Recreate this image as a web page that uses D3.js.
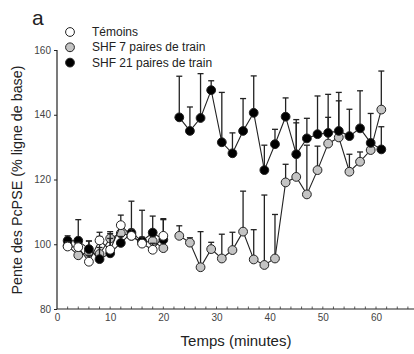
<!DOCTYPE html>
<html><head><meta charset="utf-8">
<script src="https://cdn.jsdelivr.net/npm/d3@7"></script>
<style>body{margin:0;background:#fff}svg{display:block;font-family:Arial,"Liberation Sans",sans-serif}</style>
</head><body><svg id="c" width="414" height="354"></svg>
<script>
const timesEarly = [2,4,6,8,10,12,14,16,18,20];
const timesLate = [23,25,27,29,31,33,35,37,39,41,43,45,47,49,51,53,55,57,59,61];
const temoins = [99.3,99.1,94.6,101.2,98.3,105.9,102.6,100.2,98.3,102.6];
const temoinsErr = [1.5,1.5,2,2.5,3.5,3.1,2,2,2,5];
const shf7Early = [99.5,96.6,97.5,97.0,101.8,103.4,102.6,100.5,101.0,98.8];
const shf7EarlyErr = [1,1.5,3.5,2,1.5,2.5,1.5,1.5,1.5,3.5];
const shf7Late = [102.6,100.5,92.9,98.5,95.6,98.2,103.9,95.3,93.6,95.6,119.1,120.8,115.4,122.9,131.1,133.0,122.4,125.5,129.1,141.6];
const shf7LateErr = [3.1,1.5,11,2.1,7.5,5.5,12.5,9.2,21.6,13.6,5.6,16.7,15.2,7.4,8.1,11.3,5.4,3,3,11.9];
const shf21Early = [101.1,101.1,98.5,95.4,97.2,100.4,103.5,101.0,103.6,101.4];
const shf21EarlyErr = [1.5,6.5,2.5,7,6.7,2,9.8,9.5,5.1,6.5];
const shf21Late = [139.2,135.0,139.0,147.6,131.5,128.1,135.0,140.6,122.9,130.9,139.4,127.8,132.7,134.0,134.4,135.0,133.4,135.8,131.3,129.3];
const shf21LateErr = [12.7,7.4,13.7,2.9,15.4,6.3,10,11.4,7.7,4.6,5.8,10.7,6.2,11.8,11.9,11.9,8.3,11.6,9.1,7];
const xTicks = [0,10,20,30,40,50,60];
const yTicks = [80,100,120,140,160];
const legendLabels = ["Témoins","SHF 7 paires de train","SHF 21 paires de train"];

const svg = d3.select("#c");
const x = d3.scaleLinear().domain([0,60]).range([57,376]);
const y = d3.scaleLinear().domain([80,160]).range([309,50]);

// axes
const xAxis = svg.append("g").attr("transform",`translate(0,${y(80)})`)
  .call(d3.axisBottom(x).tickValues(xTicks).tickSize(0).tickPadding(5).tickFormat(d3.format("d")));
xAxis.select(".domain").remove();
xAxis.selectAll("text").attr("font-size",10).attr("fill","#444");
svg.append("line").attr("x1",x(0)).attr("x2",414).attr("y1",y(80)).attr("y2",y(80)).attr("stroke","#222").attr("stroke-width",1.2);
const minor = d3.range(2,68,2);
svg.append("g").selectAll("line").data(minor).join("line")
  .attr("x1",d=>x(d)).attr("x2",d=>x(d)).attr("y1",y(80)).attr("y2",y(80)-2.5)
  .attr("stroke","#333").attr("stroke-width",0.8);

const yAxis = svg.append("g").attr("transform",`translate(${x(0)},0)`)
  .call(d3.axisLeft(y).tickValues(yTicks).tickSize(3).tickPadding(3).tickFormat(d3.format("d")));
yAxis.select(".domain").attr("stroke","#222").attr("stroke-width",1.2).attr("d",`M0,${y(160)}V${y(80)}`);
yAxis.selectAll("text").attr("font-size",10).attr("fill","#444");
yAxis.selectAll(".tick line").attr("stroke","#222");

svg.append("text").attr("x",236).attr("y",346).attr("text-anchor","middle").attr("font-size",15).attr("fill","#222").text("Temps (minutes)");
svg.append("text").attr("transform","translate(22,180) rotate(-90)").attr("text-anchor","middle").attr("font-size",14.3).attr("fill","#222").text("Pente des PcPSE (% ligne de base)");
svg.append("text").attr("x",32).attr("y",25).attr("font-size",21).attr("fill","#222").text("a");

function series(times, vals, errs, fill){
  const g = svg.append("g");
  const pts = times.map((t,i)=>({t,v:vals[i],e:errs[i]}));
  g.selectAll("line.eb").data(pts).join("line").attr("class","eb")
    .attr("x1",d=>x(d.t)).attr("x2",d=>x(d.t)).attr("y1",d=>y(d.v)).attr("y2",d=>y(d.v+d.e))
    .attr("stroke","#222").attr("stroke-width",1.3);
  g.selectAll("line.cap").data(pts).join("line").attr("class","cap")
    .attr("x1",d=>x(d.t)-3).attr("x2",d=>x(d.t)+3).attr("y1",d=>y(d.v+d.e)).attr("y2",d=>y(d.v+d.e))
    .attr("stroke","#222").attr("stroke-width",1.3);
  g.append("path").datum(pts).attr("fill","none").attr("stroke","#222").attr("stroke-width",1.1)
    .attr("d",d3.line().x(d=>x(d.t)).y(d=>y(d.v)));
  g.selectAll("circle").data(pts).join("circle").attr("cx",d=>x(d.t)).attr("cy",d=>y(d.v)).attr("r",4.4)
    .attr("fill",fill).attr("stroke","#222").attr("stroke-width",1);
}
const grey = "#c4c4c4";
series(timesLate, shf7Late, shf7LateErr, grey);
series(timesLate, shf21Late, shf21LateErr, "#000");
series(timesEarly, shf7Early, shf7EarlyErr, grey);
series(timesEarly, shf21Early, shf21EarlyErr, "#000");
series(timesEarly, temoins, temoinsErr, "#fff");

// legend
const fills = ["#fff", grey, "#000"];
const lg = svg.append("g");
legendLabels.forEach((l,i)=>{
  const yy = 32 + i*15.3;
  lg.append("circle").attr("cx",70).attr("cy",yy).attr("r",4.4).attr("fill",fills[i]).attr("stroke","#222").attr("stroke-width",1);
  lg.append("text").attr("x",92).attr("y",yy+4).attr("font-size",12).attr("fill","#222").text(l);
});
</script></body></html>
